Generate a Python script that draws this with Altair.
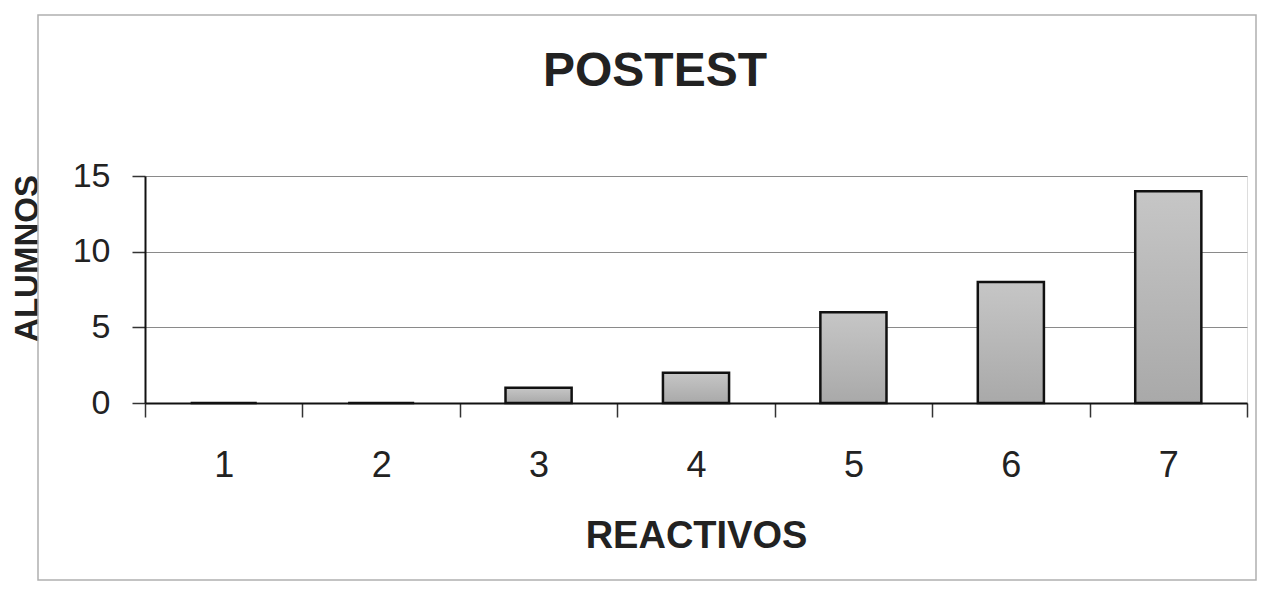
import altair as alt
import pandas as pd

reactivos = ["1", "2", "3", "4", "5", "6", "7"]
alumnos = [0, 0, 1, 2, 6, 8, 14]
y_ticks = [0, 5, 10, 15]
chart_title = "POSTEST"

df = pd.DataFrame({"REACTIVOS": reactivos, "ALUMNOS": alumnos})

W, H = 1102, 227
FONT = "Liberation Sans"

bars = alt.Chart(df).mark_bar(
    color=alt.Gradient(
        gradient="linear", x1=0, x2=0, y1=0, y2=1,
        stops=[alt.GradientStop(color="#c6c6c6", offset=0),
               alt.GradientStop(color="#a9a9a9", offset=1)],
    ),
    stroke="#111111",
    strokeWidth=2.5,
    width=alt.RelativeBandSize(0.42),
).encode(
    x=alt.X("REACTIVOS:N", sort=reactivos,
            scale=alt.Scale(paddingInner=0, paddingOuter=0),
            axis=alt.Axis(
                title="REACTIVOS", labelAngle=0, labelFontSize=36, labelFont=FONT,
                labelColor="#222", labelPadding=31, labelBaseline="top",
                tickBand="extent", tickSize=14, tickColor="#333", tickWidth=1.5,
                domainColor="#111", domainWidth=2,
                titleFont=FONT, titleFontSize=38, titleFontWeight="bold",
                titleColor="#222", titleX=W / 2, titleY=144,
                titleBaseline="alphabetic", titleAlign="center",
            )),
    y=alt.Y("ALUMNOS:Q",
            scale=alt.Scale(domain=[0, 15], nice=False),
            axis=alt.Axis(
                title="ALUMNOS", values=y_ticks, labelFontSize=34, labelFont=FONT,
                labelColor="#222", labelPadding=22, tickSize=13, tickColor="#333",
                tickWidth=1.5, domainColor="#111", domainWidth=2,
                grid=True, gridColor="#8a8a8a", gridWidth=1.2,
                titleFont=FONT, titleFontSize=33, titleFontWeight="bold",
                titleColor="#222", titleAngle=-90, titleX=-108, titleY=82,
                titleBaseline="alphabetic", titleAlign="center",
            )),
)

frame = alt.Chart(alt.Data(values=[{}])).mark_rect(
    fill=None, stroke="#b0b0b0", strokeWidth=1.5
).encode(
    x=alt.value(-107), x2=alt.value(1111),
    y=alt.value(-161), y2=alt.value(404),
)

title = alt.Chart(alt.Data(values=[{"t": chart_title}])).mark_text(
    font=FONT, fontSize=48, fontWeight="bold", color="#222",
    align="center", baseline="alphabetic",
).encode(
    text="t:N",
    x=alt.value(510), y=alt.value(-90),
)

chart = alt.layer(frame, bars, title).properties(
    width=W, height=H,
    autosize=alt.AutoSizeParams(type="none"),
    padding={"left": 137, "top": 168, "right": 12, "bottom": 180},
).configure_view(
    stroke="#111", strokeWidth=2
).configure(background="white")

chart.save("out.html", embed_options={"renderer": "svg", "actions": False})
